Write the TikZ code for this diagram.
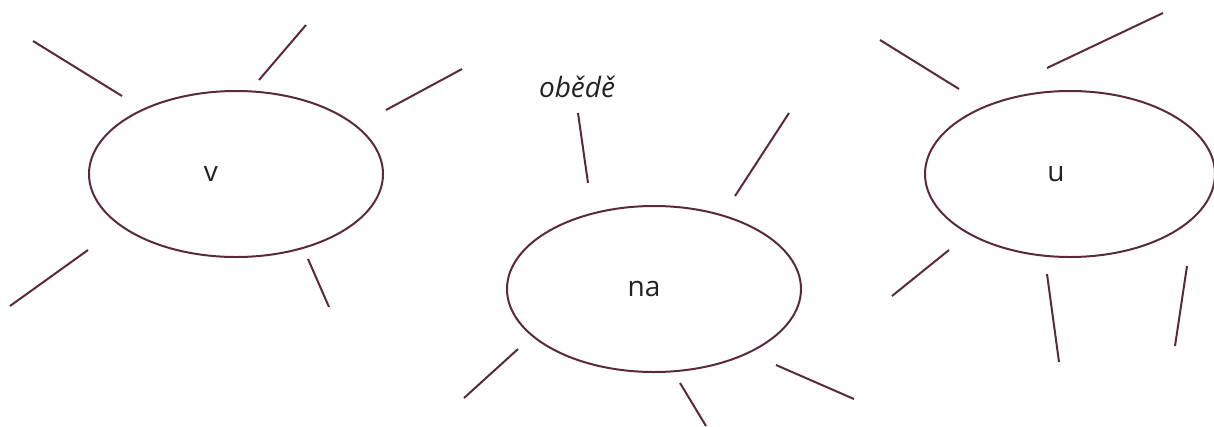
\documentclass[tikz,border=0pt]{standalone}
\usepackage{fontspec}
\setmainfont{Open Sans}
\usetikzlibrary{shapes.geometric}
\definecolor{maroon}{HTML}{5A2A3C}
\definecolor{txt}{HTML}{222222}
\begin{document}
\begin{tikzpicture}[x=1pt,y=-1pt,
  oval/.style={draw=maroon,line width=2pt,ellipse,minimum width=294pt,minimum height=166pt,inner sep=0pt},
  lbl/.style={font=\fontsize{28}{32}\selectfont,text=txt},
  spoke/.style={draw=maroon,line width=2pt}]
\useasboundingbox (0,0) rectangle (1214,426);
\node[oval,label={[lbl,xshift=-25pt]center:v}] (v) at (236,174) {};
\node[oval,label={[lbl,xshift=-10pt]center:na}] (na) at (654,289) {};
\node[oval,minimum width=290pt,label={[lbl,xshift=-14pt]center:u}] (u) at (1070,174) {};
\node[lbl,font=\fontsize{28}{32}\selectfont\itshape] (ob) at (577,87) {obědě};
% v spokes
\coordinate (v1a) at (33,41); \coordinate (v1b) at (122,96);
\coordinate (v2a) at (306,25); \coordinate (v2b) at (259,80);
\coordinate (v3a) at (462,69); \coordinate (v3b) at (386,110);
\coordinate (v4a) at (88,250); \coordinate (v4b) at (10,306);
\coordinate (v5a) at (308,259); \coordinate (v5b) at (329,307);
\draw[spoke] (v1a)--(v1b); \draw[spoke] (v2a)--(v2b); \draw[spoke] (v3a)--(v3b);
\draw[spoke] (v4a)--(v4b); \draw[spoke] (v5a)--(v5b);
% na spokes
\coordinate (n1a) at (578,113); \coordinate (n1b) at (588,183);
\coordinate (n2a) at (789,113); \coordinate (n2b) at (735,196);
\coordinate (n3a) at (518,349); \coordinate (n3b) at (464,398);
\coordinate (n4a) at (680,383); \coordinate (n4b) at (706,426);
\coordinate (n5a) at (776,365); \coordinate (n5b) at (854,399);
\draw[spoke] (n1a)--(n1b); \draw[spoke] (n2a)--(n2b); \draw[spoke] (n3a)--(n3b);
\draw[spoke] (n4a)--(n4b); \draw[spoke] (n5a)--(n5b);
% u spokes
\coordinate (u1a) at (880,40); \coordinate (u1b) at (959,89);
\coordinate (u2a) at (1163,13); \coordinate (u2b) at (1047,68);
\coordinate (u3a) at (949,250); \coordinate (u3b) at (892,296);
\coordinate (u4a) at (1047,274); \coordinate (u4b) at (1059,362);
\coordinate (u5a) at (1187,266); \coordinate (u5b) at (1175,346);
\draw[spoke] (u1a)--(u1b); \draw[spoke] (u2a)--(u2b); \draw[spoke] (u3a)--(u3b);
\draw[spoke] (u4a)--(u4b); \draw[spoke] (u5a)--(u5b);
\end{tikzpicture}
\end{document}
